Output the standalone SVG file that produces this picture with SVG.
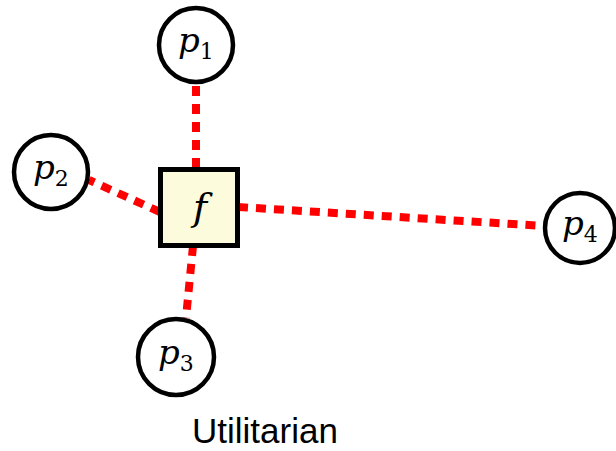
<svg xmlns="http://www.w3.org/2000/svg" width="616" height="451" viewBox="0 0 616 451">
<style>
.edge{stroke:#ff0000;stroke-width:8;stroke-dasharray:10 8;fill:none}
.node{fill:#ffffff;stroke:#000000;stroke-width:4.5}
.box{fill:#fcfcdc;stroke:#000000;stroke-width:5}
.m{font-family:"DejaVu Serif","Liberation Serif",serif;font-style:italic;font-size:34px;fill:#000}
.s{font-family:"DejaVu Serif","Liberation Serif",serif;font-style:normal;font-size:22px}
.lbl{font-family:"Liberation Sans",Arial,sans-serif;font-size:35px;fill:#000}
</style>
<rect width="616" height="451" fill="#ffffff"/>
<g id="connectors">
<line class="edge" x1="196" y1="168" x2="196" y2="82"/>
<line class="edge" x1="160" y1="212" x2="89" y2="180"/>
<line class="edge" x1="193" y1="246" x2="186" y2="318"/>
<line class="edge" x1="238" y1="207" x2="544" y2="226"/>
</g>
<g id="p1"><circle class="node" cx="196" cy="45" r="37"/><text class="m" x="178" y="52">p<tspan class="s" dy="7">1</tspan></text></g>
<g id="p2"><circle class="node" cx="51" cy="172" r="37"/><text class="m" x="33" y="179">p<tspan class="s" dy="7">2</tspan></text></g>
<g id="p3"><circle class="node" cx="176" cy="357" r="38"/><text class="m" x="158" y="364">p<tspan class="s" dy="7">3</tspan></text></g>
<g id="p4"><circle class="node" cx="580" cy="228" r="35"/><text class="m" x="562" y="235">p<tspan class="s" dy="7">4</tspan></text></g>
<g id="f"><rect class="box" x="160.5" y="169.5" width="77" height="76"/><text class="m" x="200" y="220" text-anchor="middle" style="font-size:38px">f</text></g>
<text class="lbl" x="265" y="443" text-anchor="middle">Utilitarian</text>
</svg>
